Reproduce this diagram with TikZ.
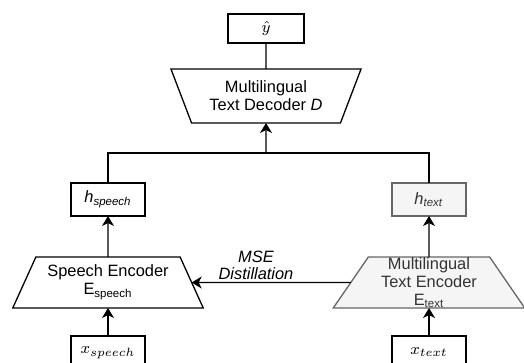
\documentclass[tikz,border=0pt]{standalone}
\usepackage{fontspec}
\setmainfont{Liberation Sans}
\usepackage{amsmath}
\usetikzlibrary{shapes.geometric,arrows.meta,calc}
\definecolor{drawgrey}{HTML}{666666}
\definecolor{fillgrey}{HTML}{F5F5F5}
\definecolor{textgrey}{HTML}{333333}

\begin{document}
\begin{tikzpicture}[x=0.5pt, y=-0.5pt, font=\fontsize{8.2}{9}\selectfont,
    every node/.style={inner sep=0pt,outer sep=0pt},
    box/.style={draw, line width=0.65pt, minimum width=37pt, minimum height=16.5pt},
    greybox/.style={box, draw=drawgrey, fill=fillgrey, text=textgrey},
    enc/.style={trapezium, draw, line width=0.65pt, trapezium stretches=true,
      trapezium angle=61, minimum width=96pt, minimum height=25.5pt, align=center},
    flow/.style={line width=0.65pt, -{Stealth[length=5pt,width=6pt,inset=1.5pt]}}]
      \useasboundingbox (0,0) rectangle (524,363);

      \draw (266,28.5) node[box, minimum width=38pt, minimum height=14.5pt] (yhat) {$\hat{y}$};
      \draw (266,96) node[enc, trapezium angle=62.5, shape border rotate=180,
        minimum width=95.5pt, minimum height=27pt] (dec) {Multilingual\\Text Decoder \textit{D}};
      \coordinate (mid) at (266,153);

      \draw (108,199.5) node[box] (hsp) {\textit{h}\textsubscript{\textit{speech}}};
      \draw (429,199.5) node[greybox] (htx) {\textit{h}\textsubscript{\textit{text}}};

      \draw (108,282.5) node[enc] (se) {Speech Encoder\\E\textsubscript{speech}};
      \draw (429,282.5) node[enc, draw=drawgrey, fill=fillgrey, text=textgrey] (te)
        {Multilingual\\Text Encoder\\E\textsubscript{text}};

      \draw (108,352.5) node[box] (xsp) {$x_{speech}$};
      \draw (429,352.5) node[box] (xtx) {$x_{text}$};

      \draw (256,280) node[anchor=south, align=center, font=\fontsize{8.2}{8.5}\selectfont\itshape] (mse) {MSE\\Distillation};

      \draw[line width=0.65pt] (yhat) -- (dec);
      \draw[line width=0.65pt] (hsp) |- (mid) -| (htx);
      \draw[flow] (mid) -- (dec);

      \draw[flow] (se) -- (hsp);
      \draw[flow] (te) -- (htx);
      \draw[flow] (te) -- (se);

      \draw[flow] (xsp) -- (se);
      \draw[flow, line width=1.2pt] (xtx) -- (te);
    \end{tikzpicture}
\end{document}
